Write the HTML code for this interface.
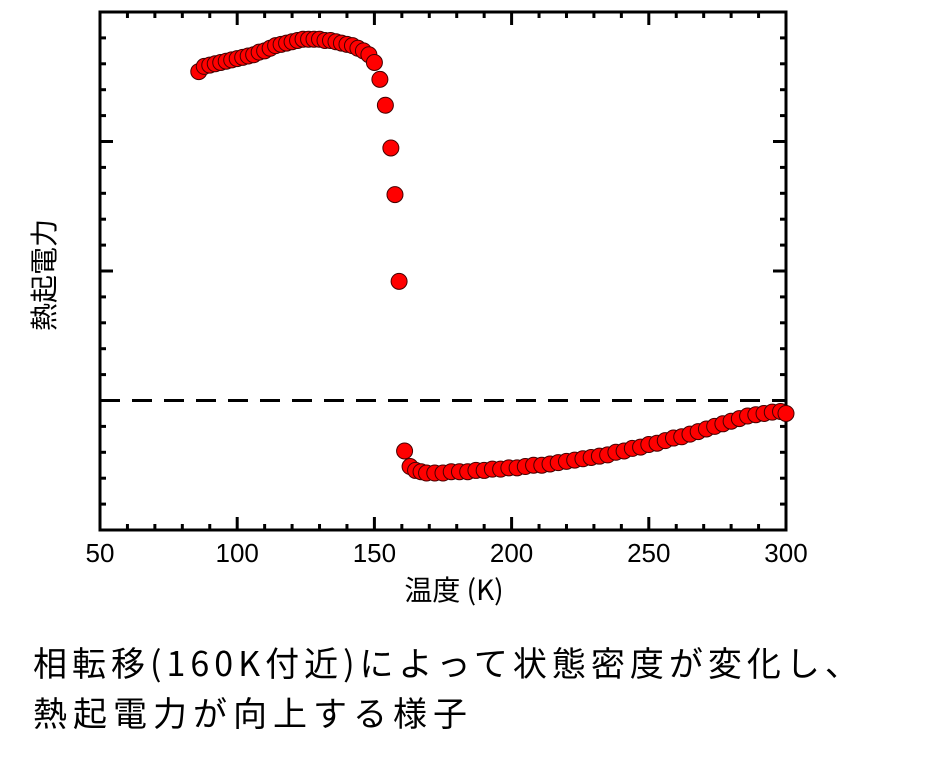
<!DOCTYPE html>
<html><head><meta charset="utf-8"><style>
body{margin:0;background:#fff;width:941px;height:764px;overflow:hidden}
svg{display:block}
text{font-family:"Liberation Sans","Noto Sans CJK JP",sans-serif}
.cjk{font-family:"Noto Sans CJK JP","Liberation Sans",sans-serif}
</style></head><body>
<svg width="941" height="764">
<g id="axes"></g>
<g id="marks"></g>
<text class="cjk" x="454" y="600" font-size="28" text-anchor="middle">温度 (K)</text>
<text class="cjk" transform="translate(54,275) rotate(-90)" font-size="28" text-anchor="middle">熱起電力</text>
<text class="cjk" x="33" y="676" font-size="34" letter-spacing="5">相転移(160K付近)によって状態密度が変化し、</text>
<text class="cjk" x="33" y="726" font-size="34" letter-spacing="6">熱起電力が向上する様子</text>
</svg>
<script>
const temps=[86,88,90,92,94,96,98,100,102,104,106,108,110,112,114,116,118,120,122,124,126,128,130,132,134,136,138,140,142,144,146,148,150,152,154,156,157.5,159,161,163,165,167,169,172,175,178,181,184,187,190,193,196,199,202,205,208,211,214,217,220,223,226,229,232,235,238,241,244,247,250,253,256,259,262,265,268,271,274,277,280,283,286,289,292,295,298,300];
const seebeck=[2.54,2.58,2.59,2.60,2.61,2.62,2.63,2.64,2.65,2.66,2.67,2.69,2.70,2.72,2.74,2.75,2.76,2.77,2.78,2.79,2.79,2.79,2.79,2.78,2.78,2.77,2.76,2.75,2.74,2.72,2.70,2.67,2.61,2.48,2.28,1.95,1.59,0.92,-0.39,-0.51,-0.54,-0.55,-0.56,-0.56,-0.56,-0.55,-0.55,-0.55,-0.54,-0.54,-0.53,-0.53,-0.52,-0.52,-0.51,-0.50,-0.50,-0.49,-0.48,-0.47,-0.46,-0.45,-0.44,-0.43,-0.42,-0.40,-0.39,-0.37,-0.36,-0.34,-0.33,-0.31,-0.29,-0.28,-0.26,-0.24,-0.22,-0.20,-0.18,-0.16,-0.14,-0.12,-0.11,-0.10,-0.09,-0.085,-0.10];
const xTickLabels=[50,100,150,200,250,300];
const X0=100,X1=786,Y0=12,Y1=530;
const xMin=50,xMax=300,yMin=-1,yMax=3;
const sx=v=>X0+(v-xMin)/(xMax-xMin)*(X1-X0);
const sy=v=>Y1-(v-yMin)/(yMax-yMin)*(Y1-Y0);
const NS="http://www.w3.org/2000/svg";
const ax=document.getElementById('axes'),mk=document.getElementById('marks');
function mk_(tag,attrs,parent){const e=document.createElementNS(NS,tag);for(const k in attrs)e.setAttribute(k,attrs[k]);parent.appendChild(e);return e;}
for(let t=xMin;t<=xMax;t+=10){
  const major=t%50===0,len=major?13:6,x=sx(t);
  let a=mk_('line',{x1:x,x2:x,y1:Y1,y2:Y1-len,stroke:'#000','stroke-width':3},ax);
  
  
  let b=mk_('line',{x1:x,x2:x,y1:Y0,y2:Y0+len,stroke:'#000','stroke-width':3},ax);
  
  
}
for(let i=0;i<=20;i++){
  const v=yMin+i*0.2,major=i%5===0,len=major?13:6,y=sy(v);
  let a=mk_('line',{x1:X0,x2:X0+len,y1:y,y2:y,stroke:'#000','stroke-width':3},ax);
  
  
  let b=mk_('line',{x1:X1,x2:X1-len,y1:y,y2:y,stroke:'#000','stroke-width':3},ax);
  
  
}
xTickLabels.forEach(t=>{
  const tx=mk_('text',{x:sx(t),y:562,'font-size':26,'text-anchor':'middle'},ax);
  tx.textContent=t;
  
  
});
const zl=mk_('line',{x1:X0,x2:X1,y1:sy(0),y2:sy(0),stroke:'#000','stroke-width':3,'stroke-dasharray':'20 12'},ax);


const fr=mk_('rect',{x:X0,y:Y0,width:X1-X0,height:Y1-Y0,fill:'none',stroke:'#000','stroke-width':3},ax);


temps.forEach((t,i)=>{
  const c=mk_('circle',{cx:sx(t),cy:sy(seebeck[i]),r:8,fill:'#f00',stroke:'#400','stroke-width':1},mk);
  
  
});
</script>
</body></html>
